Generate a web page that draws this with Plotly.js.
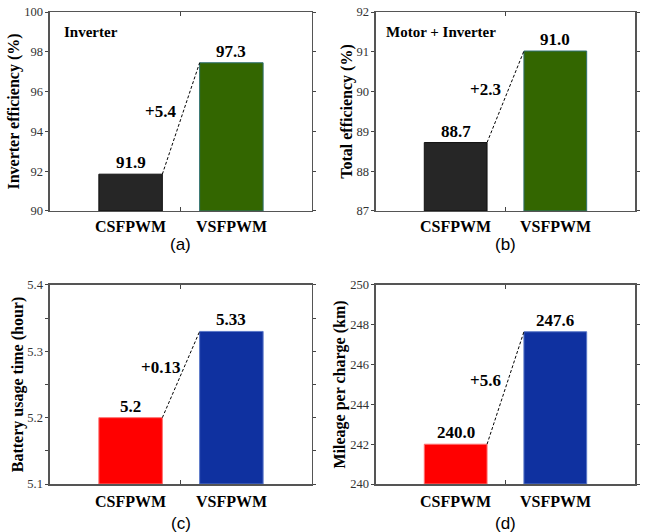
<!DOCTYPE html>
<html>
<head>
<meta charset="utf-8">
<script src="https://cdn.plot.ly/plotly-3.0.1.min.js"></script>
<style>html,body{margin:0;padding:0;background:#fff;}#chart{width:645px;height:532px;}</style>
</head>
<body>
<div id="chart"></div>
<script>
// ---- data ----
const categories = ["CSFPWM", "VSFPWM"];
const inverterEff = [91.85, 97.45];
const inverterLabels = ["91.9", "97.3"];
const inverterDelta = "+5.4";
const totalEff = [88.72, 91.02];
const totalLabels = ["88.7", "91.0"];
const totalDelta = "+2.3";
const batteryTime = [5.20, 5.33];
const batteryLabels = ["5.2", "5.33"];
const batteryDelta = "+0.13";
const mileage = [242.0, 247.65];
const mileageLabels = ["240.0", "247.6"];
const mileageDelta = "+5.6";
const panelNames = ["(a)", "(b)", "(c)", "(d)"];
const insideTitles = ["Inverter", "Motor + Inverter"];
const yTitles = ["Inverter efficiency (%)", "Total efficiency (%)", "Battery usage time (hour)", "Mileage per charge (km)"];
const yRanges = [[90, 100], [87, 92], [5.1, 5.4], [240, 250]];
const yDtick = [2, 1, 0.1, 2];
const yMinor = [null, null, 0.05, null];

// ---- styling ----
const serif = "Liberation Serif";
const sans = "Liberation Sans";
const barW = 0.63;
const xPos = [1, 2];
const panels = [
  {vals: inverterEff, labels: inverterLabels, delta: inverterDelta, colors: ["#262626", "#336600"], lines: ["#111111", "#2f7070"]},
  {vals: totalEff, labels: totalLabels, delta: totalDelta, colors: ["#262626", "#336600"], lines: ["#111111", "#2f7070"]},
  {vals: batteryTime, labels: batteryLabels, delta: batteryDelta, colors: ["#ff0000", "#0f31a0"], lines: ["#ff7070", "#5a78c8"]},
  {vals: mileage, labels: mileageLabels, delta: mileageDelta, colors: ["#ff0000", "#0f31a0"], lines: ["#ff7070", "#5a78c8"]}
];
const xDomains = [[0.0775, 0.4837], [0.5829, 0.9845], [0.0775, 0.4837], [0.5829, 0.9845]];
const yDomains = [[0.6034, 0.9774], [0.6034, 0.9774], [0.0902, 0.4643], [0.0902, 0.4643]];

const traces = [];
const layout = {
  width: 645, height: 532,
  margin: {l: 0, r: 0, t: 0, b: 0},
  paper_bgcolor: "#fff", plot_bgcolor: "#fff",
  showlegend: false,
  annotations: [], shapes: [],
  font: {family: serif, color: "#000"}
};

panels.forEach((p, i) => {
  const n = i + 1;
  const xa = "x" + (n === 1 ? "" : n);
  const ya = "y" + (n === 1 ? "" : n);
  const xk = "xaxis" + (n === 1 ? "" : n);
  const yk = "yaxis" + (n === 1 ? "" : n);
  traces.push({
    type: "bar", x: xPos, y: p.vals.map(v => v - yRanges[i][0]), width: barW,
    base: yRanges[i][0],
    xaxis: xa, yaxis: ya,
    marker: {color: p.colors, line: {color: p.lines, width: 1}},
    hoverinfo: "skip"
  });

  layout[xk] = {
    domain: xDomains[i], anchor: ya, range: [0.2, 2.8],
    tickvals: [1.5], ticktext: [""], ticks: "inside", ticklen: 4, tickcolor: "#444",
    showline: true, linecolor: "#555", linewidth: 1.5, mirror: "ticks",
    showgrid: false, zeroline: false, fixedrange: true
  };
  const ycfg = {
    domain: yDomains[i], anchor: xa, range: yRanges[i], dtick: yDtick[i],
    tick0: yRanges[i][0],
    ticks: "outside", ticklen: 3, tickcolor: "#444",
    showline: true, linecolor: "#555", linewidth: 1.5, mirror: "ticks",
    showgrid: false, zeroline: false, fixedrange: true,
    tickfont: {family: serif, size: 12.5, color: "#333"},
    title: {text: "<b>" + yTitles[i] + "</b>", font: {family: serif, size: 16, color: "#000"}, standoff: 0}
  };
  if (yMinor[i]) ycfg.minor = {dtick: yMinor[i], ticks: "outside", ticklen: 3, tickcolor: "#444"};
  layout[yk] = ycfg;

  // value labels
  p.vals.forEach((v, j) => {
    layout.annotations.push({
      xref: xa, yref: ya, x: xPos[j], y: v, text: "<b>" + p.labels[j] + "</b>",
      showarrow: false, xanchor: "center", yanchor: "bottom", yshift: 0,
      font: {family: serif, size: 17, color: "#000"}
    });
  });
  // delta label
  layout.annotations.push({
    xref: xa, yref: ya, x: 1.3, y: (p.vals[0] + p.vals[1]) / 2,
    text: "<b>" + p.delta + "</b>", showarrow: false, xanchor: "center", yanchor: "middle", yshift: 7,
    font: {family: serif, size: 17, color: "#000"}
  });
  // dashed connector
  layout.shapes.push({
    type: "line", xref: xa, yref: ya,
    x0: xPos[0] + barW / 2, y0: p.vals[0], x1: xPos[1] - barW / 2, y1: p.vals[1],
    line: {color: "#000", width: 1, dash: "3px,2px"}
  });
  // category labels
  categories.forEach((c, j) => {
    layout.annotations.push({
      xref: xa, yref: ya + " domain", x: xPos[j], y: 0, text: "<b>" + c + "</b>",
      showarrow: false, xanchor: "center", yanchor: "top", yshift: i < 2 ? -5 : -7,
      font: {family: serif, size: 16, color: "#000"}
    });
  });
  // panel label
  if (i < 2) {
    layout.annotations.push({
      xref: xa + " domain", yref: ya + " domain", x: 0.5, y: 0, text: panelNames[i],
      showarrow: false, xanchor: "center", yanchor: "middle", yshift: -34,
      font: {family: sans, size: 17, color: "#000"}
    });
  } else {
    layout.annotations.push({
      xref: xa + " domain", yref: "paper", x: 0.5, y: 0, text: panelNames[i],
      showarrow: false, xanchor: "center", yanchor: "bottom", yshift: -3,
      font: {family: sans, size: 17, color: "#000"}
    });
  }
});

// inside titles
layout.annotations.push({
  xref: "x domain", yref: "y domain", x: 0.045, y: 0.9, text: "<b>" + insideTitles[0] + "</b>",
  showarrow: false, xanchor: "left", yanchor: "middle", font: {family: serif, size: 15, color: "#000"}
});
layout.annotations.push({
  xref: "x2 domain", yref: "y2 domain", x: 0.03, y: 0.9, text: "<b>" + insideTitles[1] + "</b>",
  showarrow: false, xanchor: "left", yanchor: "middle", font: {family: serif, size: 15, color: "#000"}
});

Plotly.newPlot("chart", traces, layout, {staticPlot: true, displayModeBar: false});
</script>
</body>
</html>
